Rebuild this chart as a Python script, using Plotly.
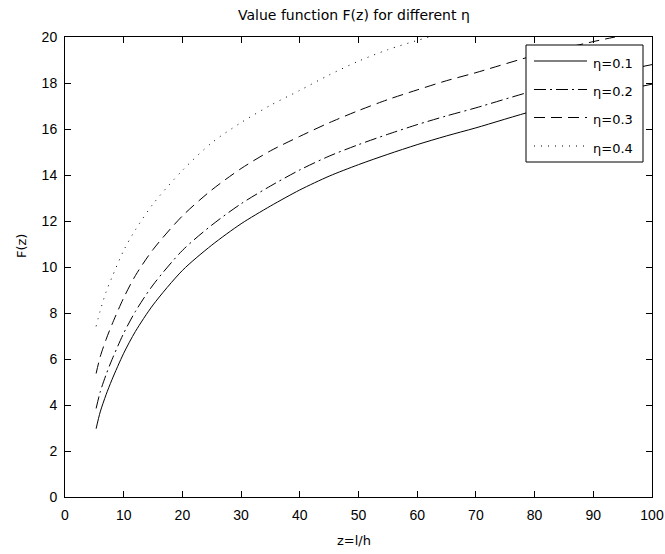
import plotly.graph_objects as go

# ---- data ----
z_eta01 = [5.3, 6, 7, 8, 10, 12, 15, 20, 25, 30, 35, 40, 45, 50, 55, 60, 65, 70, 80, 90, 100]
F_eta01 = [2.97, 3.7, 4.45, 5.1, 6.25, 7.2, 8.35, 9.85, 10.95, 11.88, 12.65, 13.35, 13.95, 14.45,
           14.9, 15.32, 15.7, 16.05, 16.8, 17.4, 17.95]

z_eta02 = [5.3, 6, 7, 8, 10, 12, 15, 20, 25, 30, 35, 40, 45, 50, 55, 60, 65, 70, 80, 90, 100]
F_eta02 = [3.85, 4.57, 5.32, 5.97, 7.12, 8.07, 9.22, 10.72, 11.82, 12.75, 13.52, 14.22, 14.82,
           15.32, 15.77, 16.19, 16.57, 16.92, 17.67, 18.27, 18.8]

z_eta03 = [5.3, 6, 7, 8, 10, 12, 15, 20, 25, 30, 35, 40, 45, 50, 55, 60, 65, 70, 80, 90, 93.7]
F_eta03 = [5.37, 6.1, 6.85, 7.5, 8.66, 9.63, 10.76, 12.22, 13.35, 14.28, 15.05, 15.68, 16.27,
           16.8, 17.28, 17.7, 18.1, 18.45, 19.2, 19.8, 20.0]

z_eta04 = [5.3, 6, 7, 8, 10, 12, 15, 20, 25, 30, 35, 40, 45, 50, 55, 60, 62]
F_eta04 = [7.42, 8.1, 8.92, 9.55, 10.72, 11.62, 12.74, 14.2, 15.4, 16.28, 17.03, 17.68, 18.35,
           18.95, 19.45, 19.85, 20.0]

series_names = ["η=0.1", "η=0.2", "η=0.3", "η=0.4"]
x_ticks = [0, 10, 20, 30, 40, 50, 60, 70, 80, 90, 100]
y_ticks = [0, 2, 4, 6, 8, 10, 12, 14, 16, 18, 20]

title_text = "Value function F(z) for different η"
x_label = "z=l/h"
y_label = "F(z)"

# ---- styling ----
dashes = ["solid", "12px,4px,2px,4px", "11px,6px", "1px,6px"]
TICKFONT = "Liberation Sans, Arial, sans-serif"
TEXTFONT = "DejaVu Sans, sans-serif"

W, H = 665, 554
L, R, T, B = 65, 13, 37, 57
pw, ph = W - L - R, H - T - B


def px(xp):
    return (xp - L) / pw


def py(yp):
    return (H - B - yp) / ph


fig = go.Figure()
for name, zs, fs, d in zip(series_names,
                           [z_eta01, z_eta02, z_eta03, z_eta04],
                           [F_eta01, F_eta02, F_eta03, F_eta04],
                           dashes):
    fig.add_trace(go.Scatter(x=zs, y=fs, mode="lines", name=name, showlegend=False,
                             line=dict(color="black", width=1, dash=d, shape="spline",
                                       smoothing=0.8)))

# legend box drawn as shapes + text
leg_x0, leg_x1, leg_y0, leg_y1 = 526, 643, 45, 162
row_y = [61, 89.5, 117.5, 146]
shapes = [dict(type="rect", xref="paper", yref="paper",
               x0=px(leg_x0), x1=px(leg_x1), y0=py(leg_y1), y1=py(leg_y0),
               line=dict(color="black", width=1), fillcolor="white", layer="above")]
annotations = []
for name, d, ry in zip(series_names, dashes, row_y):
    shapes.append(dict(type="line", xref="paper", yref="paper",
                       x0=px(534), x1=px(587), y0=py(ry), y1=py(ry),
                       line=dict(color="black", width=1, dash=d), layer="above"))
    annotations.append(dict(text=name, x=px(591), y=py(ry + 2), xref="paper", yref="paper",
                            showarrow=False, xanchor="left", yanchor="middle",
                            font=dict(family=TEXTFONT, size=13, color="black")))

annotations += [
    dict(text=title_text, x=px(354), y=py(15), xref="paper", yref="paper",
         showarrow=False, xanchor="center", yanchor="middle",
         font=dict(family=TEXTFONT, size=14, color="black")),
    dict(text=x_label, x=px(354), y=py(540), xref="paper", yref="paper",
         showarrow=False, xanchor="center", yanchor="middle",
         font=dict(family=TEXTFONT, size=13, color="black")),
    dict(text=y_label, x=px(21), y=py(246), xref="paper", yref="paper",
         showarrow=False, xanchor="center", yanchor="middle", textangle=-90,
         font=dict(family=TEXTFONT, size=13, color="black")),
]

axis_common = dict(showgrid=False, zeroline=False, showline=True, linecolor="black",
                   linewidth=1, mirror="ticks", ticks="inside", ticklen=6, tickcolor="black",
                   tickwidth=1, tickfont=dict(family=TICKFONT, size=14, color="black"))

fig.update_layout(
    width=W, height=H, autosize=False,
    margin=dict(l=L, r=R, t=T, b=B, pad=0, autoexpand=False),
    paper_bgcolor="white", plot_bgcolor="white",
    showlegend=False,
    xaxis=dict(range=[0, 100], tickvals=x_ticks, ticklabelstandoff=5, **axis_common),
    yaxis=dict(range=[0, 20], tickvals=y_ticks, ticklabelstandoff=4, **axis_common),
    shapes=shapes,
    annotations=annotations,
)

fig.write_html("out.html", config={"responsive": False})
